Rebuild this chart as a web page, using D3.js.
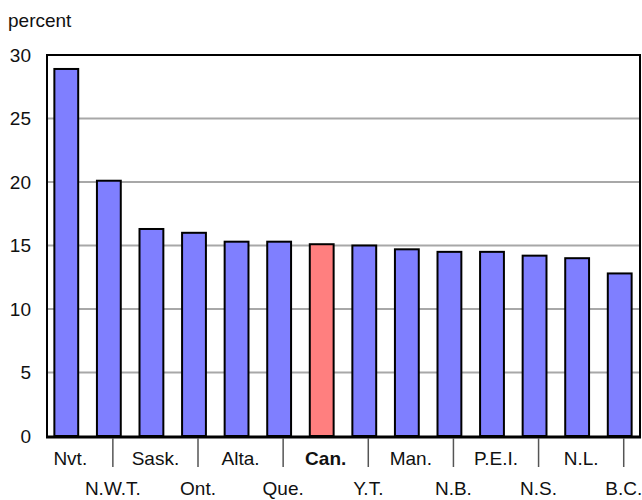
<!DOCTYPE html>
<html lang="en">
<head>
<meta charset="UTF-8">
<title>Percent by province</title>
<style>
  body { margin: 0; background: #fff; }
  svg text { font-family: "Liberation Sans", Arial, sans-serif; fill: #111; }
</style>
</head>
<body>
<svg id="chart" width="642" height="500"></svg>
<script src="https://cdn.jsdelivr.net/npm/d3@7"></script>
<script>
  const categories = ["Nvt.", "N.W.T.", "Sask.", "Ont.", "Alta.", "Que.", "Can.", "Y.T.", "Man.", "N.B.", "P.E.I.", "N.S.", "N.L.", "B.C."];
  const values = [28.9, 20.1, 16.3, 16.0, 15.3, 15.3, 15.1, 15.0, 14.7, 14.5, 14.5, 14.2, 14.0, 12.8];
  const yTicks = [0, 5, 10, 15, 20, 25, 30];
  const highlight = "Can.";

  const svg = d3.select("#chart");
  const plotLeft = 47, plotRight = 640, plotTop = 55, plotBottom = 436;

  const x = d3.scaleBand().domain(categories).range([45, 641])
    .paddingInner(0.44).paddingOuter(0.22);
  const y = d3.scaleLinear().domain([0, 30]).range([plotBottom, plotTop]);

  // gridlines
  svg.append("g").selectAll("line")
    .data(yTicks.filter(d => d > 0 && d < 30))
    .enter().append("line")
    .attr("x1", plotLeft).attr("x2", plotRight)
    .attr("y1", d => y(d)).attr("y2", d => y(d))
    .attr("stroke", "#a8a8a8").attr("stroke-width", 2);

  // y labels
  svg.append("g").selectAll("text")
    .data(yTicks).enter().append("text")
    .attr("x", 31).attr("y", d => y(d))
    .attr("text-anchor", "end").attr("dominant-baseline", "central")
    .style("font-size", "19px")
    .text(d => d);

  svg.append("text").attr("x", 8).attr("y", 27)
    .style("font-size", "19px").text("percent");

  // bars
  svg.append("g").selectAll("rect")
    .data(categories).enter().append("rect")
    .attr("x", d => x(d))
    .attr("y", (d, i) => y(values[i]))
    .attr("width", x.bandwidth())
    .attr("height", (d, i) => y(0) - y(values[i]))
    .attr("fill", d => d === highlight ? "#ff7f7f" : "#7f7fff")
    .attr("stroke", "#000").attr("stroke-width", 2);

  // frame
  svg.append("path")
    .attr("d", `M${plotLeft},${plotBottom} V${plotTop} H${plotRight} V${plotBottom}`)
    .attr("fill", "none").attr("stroke", "#000").attr("stroke-width", 2);
  svg.append("line")
    .attr("x1", plotLeft - 1).attr("x2", plotRight + 1)
    .attr("y1", plotBottom + 1).attr("y2", plotBottom + 1)
    .attr("stroke", "#000").attr("stroke-width", 3);

  // x ticks and staggered labels
  const off = 4;
  const xg = svg.append("g");
  categories.forEach((c, i) => {
    const cx = x(c) + x.bandwidth() / 2 + off;
    if (i % 2 === 1) {
      xg.append("line").attr("x1", cx).attr("x2", cx)
        .attr("y1", plotBottom + 2).attr("y2", plotBottom + 31)
        .attr("stroke", "#555").attr("stroke-width", 1.5);
    }
    xg.append("text")
      .attr("x", cx)
      .attr("y", i % 2 === 0 ? 465 : 495)
      .attr("text-anchor", "middle")
      .style("font-size", "19px")
      .style("font-weight", c === highlight ? "bold" : "normal")
      .text(c);
  });
</script>
</body>
</html>
